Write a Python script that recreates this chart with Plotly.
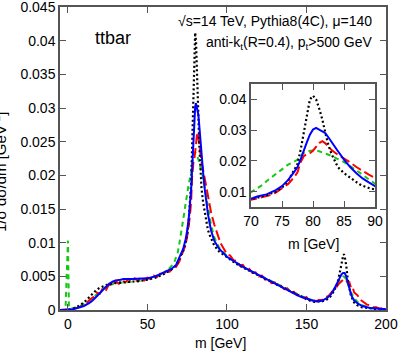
import plotly.graph_objects as go

# ---------------- data ----------------
m_blue = [-5, 0, 3, 6, 10, 13, 15, 18, 20, 22, 25, 28, 30, 33, 35, 40, 45, 50, 55, 60, 65, 68, 70, 71, 72.5, 74, 75, 76, 77, 77.5, 78, 78.5, 79, 79.5, 80, 80.5, 81, 81.5, 82, 82.5, 83, 84, 85, 86, 87, 87.5, 88, 89, 90, 92, 95, 100, 105, 110, 115, 120, 125, 130, 135, 140, 145, 150, 155, 158, 160, 163, 165, 167, 169, 170, 171, 172, 173, 174, 175, 176, 177, 178, 179, 180, 182, 185, 190, 195, 200]
y_blue = [0, 0, 0.0001, 0.0003, 0.0006, 0.001, 0.0013, 0.002, 0.0025, 0.0031, 0.0037, 0.0042, 0.0044, 0.0045, 0.0046, 0.0046, 0.0046, 0.0047, 0.005, 0.0055, 0.0061, 0.0067, 0.0077, 0.0084, 0.0091, 0.0105, 0.0118, 0.0138, 0.0165, 0.018, 0.0205, 0.0235, 0.026, 0.0285, 0.0302, 0.0307, 0.0302, 0.0297, 0.029, 0.0276, 0.026, 0.0232, 0.0204, 0.018, 0.016, 0.0151, 0.0143, 0.013, 0.0118, 0.0103, 0.0091, 0.0079, 0.0071, 0.0064, 0.0058, 0.0052, 0.0046, 0.004, 0.0034, 0.0027, 0.0021, 0.0017, 0.0013, 0.0013, 0.0014, 0.0018, 0.0022, 0.0029, 0.0038, 0.0044, 0.0049, 0.0053, 0.0055, 0.0055, 0.005, 0.004, 0.0031, 0.0023, 0.0018, 0.0014, 0.001, 0.0006, 0.0003, 0.0002, 0.0001]

m_black = [-5, 0, 3, 6, 10, 13, 15, 18, 20, 23, 25, 30, 35, 40, 45, 50, 55, 60, 65, 68, 70, 72.5, 74, 75, 76, 77, 77.5, 78, 78.5, 79, 79.5, 80, 80.5, 81, 81.5, 82, 82.5, 83, 83.5, 84, 85, 86, 87, 87.5, 88, 89, 90, 92, 95, 100, 105, 110, 115, 120, 125, 130, 135, 140, 145, 150, 155, 158, 160, 163, 165, 167, 169, 170, 171, 172, 173, 173.5, 174, 175, 176, 177, 178, 180, 182, 185, 190, 195, 200]
y_black = [0, 0, 0.0002, 0.0005, 0.0011, 0.0018, 0.0024, 0.003, 0.0033, 0.0036, 0.0038, 0.004, 0.0041, 0.0041, 0.0043, 0.0045, 0.0048, 0.0053, 0.006, 0.0066, 0.0075, 0.0088, 0.01, 0.0113, 0.0135, 0.017, 0.019, 0.0235, 0.029, 0.0345, 0.04, 0.0412, 0.04, 0.037, 0.0335, 0.029, 0.025, 0.0222, 0.02, 0.018, 0.016, 0.0144, 0.0131, 0.0124, 0.0119, 0.0112, 0.0106, 0.0096, 0.0087, 0.0078, 0.007, 0.0063, 0.0057, 0.0051, 0.0045, 0.0039, 0.0033, 0.0027, 0.0021, 0.0016, 0.0012, 0.0012, 0.0013, 0.0016, 0.002, 0.0027, 0.0037, 0.0045, 0.0055, 0.0068, 0.008, 0.0083, 0.008, 0.0066, 0.0045, 0.003, 0.0021, 0.0011, 0.0007, 0.0004, 0.0002, 0.0001, 0.0001]

m_red = [-5, 0, 2, 4, 6, 8, 10, 12, 14, 16, 18, 20, 22, 24, 26, 28, 30, 32, 34, 36, 38, 40, 42, 44, 46, 48, 50, 52, 54, 56, 58, 60, 62, 64, 66, 68, 70, 71, 72, 73, 74, 75, 76, 77, 77.5, 78, 78.5, 79, 79.5, 80, 80.5, 81, 81.5, 82, 82.5, 83, 84, 85, 86, 87, 88, 89, 90, 92, 94, 96, 98, 100, 102, 104, 106, 108, 110, 112, 114, 116, 118, 120, 122, 124, 126, 128, 130, 132, 134, 136, 138, 140, 142, 144, 146, 148, 150, 152, 154, 156, 158, 160, 162, 164, 166, 168, 170, 172, 173, 174, 175, 176, 177, 178, 179, 180, 182, 184, 186, 188, 190, 192, 194, 196, 198, 200]
y_red = [0, 0, 0.0001, 0.0002, 0.0003, 0.0005, 0.0008, 0.0011, 0.0016, 0.0019, 0.0026, 0.0024, 0.0033, 0.003, 0.0039, 0.0036, 0.0043, 0.0039, 0.0045, 0.0041, 0.0046, 0.0042, 0.0047, 0.0043, 0.0049, 0.0044, 0.0048, 0.0046, 0.0051, 0.0049, 0.0054, 0.0052, 0.0058, 0.0057, 0.0063, 0.0064, 0.0072, 0.0078, 0.0083, 0.0088, 0.0097, 0.011, 0.0125, 0.0148, 0.0163, 0.0195, 0.0215, 0.0222, 0.0225, 0.0233, 0.0245, 0.0258, 0.0264, 0.0257, 0.0246, 0.0235, 0.022, 0.0208, 0.0195, 0.018, 0.0167, 0.0155, 0.0145, 0.0127, 0.0112, 0.0099, 0.0091, 0.0083, 0.0081, 0.0074, 0.0073, 0.0066, 0.0067, 0.006, 0.0061, 0.0055, 0.0056, 0.005, 0.0051, 0.0045, 0.0046, 0.004, 0.0041, 0.0035, 0.0036, 0.0031, 0.0032, 0.0026, 0.0027, 0.0022, 0.0023, 0.0018, 0.0019, 0.0014, 0.0016, 0.0013, 0.0015, 0.0015, 0.0019, 0.0021, 0.0027, 0.0031, 0.0038, 0.0043, 0.0045, 0.0043, 0.0044, 0.004, 0.0041, 0.0033, 0.0034, 0.0026, 0.0022, 0.0015, 0.0012, 0.0008, 0.0007, 0.0004, 0.0004, 0.0002, 0.0003, 0.0002]

m_green = [-5, -2, -1.5, 0, 0.6, 1.5, 4, 7, 10, 13, 15, 18, 20, 23, 25, 30, 35, 40, 45, 50, 55, 60, 63, 65, 67, 68, 69, 70, 71, 72, 72.5, 73, 74, 75, 76, 77, 77.5, 78, 78.5, 79, 80, 81, 82, 82.5, 83, 84, 85, 86, 87, 87.5, 88, 89, 90, 92, 95, 100, 105, 110, 115, 120, 125, 130, 135, 140, 145, 150, 155, 160, 163, 165, 167, 169, 170, 171, 172, 173, 174, 175, 176, 177, 178, 180, 182, 185, 190, 195, 200]
y_green = [0, 0, 0.0004, 0.0103, 0.0004, 0.0002, 0.0003, 0.0005, 0.0009, 0.0013, 0.0016, 0.0023, 0.0028, 0.0033, 0.0036, 0.004, 0.0041, 0.0042, 0.0043, 0.0046, 0.005, 0.0055, 0.006, 0.0065, 0.0072, 0.0078, 0.0085, 0.0098, 0.0111, 0.0124, 0.0134, 0.0142, 0.0158, 0.0174, 0.0188, 0.0198, 0.0204, 0.0215, 0.0226, 0.0231, 0.0234, 0.0231, 0.0224, 0.022, 0.0216, 0.0206, 0.0196, 0.0183, 0.017, 0.0162, 0.0155, 0.014, 0.0126, 0.0108, 0.0093, 0.008, 0.0072, 0.0064, 0.0058, 0.0052, 0.0046, 0.004, 0.0034, 0.0028, 0.0022, 0.0017, 0.0014, 0.0015, 0.0019, 0.0023, 0.003, 0.0038, 0.0042, 0.0046, 0.0049, 0.005, 0.0049, 0.0045, 0.0039, 0.0032, 0.0026, 0.0018, 0.0012, 0.0007, 0.0003, 0.0002, 0.0001]

main_xticks = [0, 50, 100, 150, 200]
main_yticks = [0, 0.005, 0.01, 0.015, 0.02, 0.025, 0.03, 0.035, 0.04, 0.045]
main_ylabels = ["0", "0.005", "0.01", "0.015", "0.02", "0.025", "0.03", "0.035", "0.04", "0.045"]
inset_xticks = [70, 75, 80, 85, 90]
inset_yticks = [0.01, 0.02, 0.03, 0.04]

# ---------------- styles ----------------
FONT = "Liberation Sans, Arial, sans-serif"
series = [
    (m_green, y_green, dict(color="#14c814", width=2, dash="5px,4px")),
    (m_red, y_red, dict(color="#ff0000", width=2, dash="10px,4px")),
    (m_black, y_black, dict(color="#000000", width=2.2, dash="2px,2.5px")),
    (m_blue, y_blue, dict(color="#0000ff", width=2, dash="solid")),
]

fig = go.Figure()
for xs, ys, ln in series:
    fig.add_trace(go.Scatter(x=xs, y=ys, mode="lines", line=ln, xaxis="x", yaxis="y",
                             showlegend=False, hoverinfo="skip"))
for xs, ys, ln in series:
    fig.add_trace(go.Scatter(x=xs, y=ys, mode="lines", line=ln, xaxis="x2", yaxis="y2",
                             showlegend=False, hoverinfo="skip", cliponaxis=True))

axcommon = dict(showgrid=False, zeroline=False, showline=True, linecolor="#555555",
                linewidth=1.5, mirror="ticks", ticks="inside", ticklen=6,
                tickcolor="#555555", tickwidth=1.2, automargin=False,
                ticklabeloverflow="allow",
                tickfont=dict(family=FONT, size=14, color="#000"))

L, T, W, H = 60, 7, 326, 303
def px(p):
    return (p - L) / W
def py(p):
    return (T + H - p) / H

fig.update_layout(
    width=399, height=353,
    margin=dict(l=L, r=399 - L - W, t=T, b=353 - T - H),
    paper_bgcolor="white", plot_bgcolor="white",
    font=dict(family=FONT, size=14, color="#000"),
    xaxis=dict(axcommon, range=[-5, 200], tickvals=main_xticks, domain=[0, 1]),
    yaxis=dict(axcommon, range=[0, 0.045], tickvals=main_yticks, ticktext=main_ylabels,
               domain=[0, 1]),
    xaxis2=dict(axcommon, range=[70, 90], tickvals=inset_xticks, anchor="y2",
                domain=[px(251), px(375)]),
    yaxis2=dict(axcommon, range=[0.005, 0.045], tickvals=inset_yticks, anchor="x2",
                domain=[py(207), py(84)]),
)

ann = [
    dict(text="ttbar", x=px(93), y=py(38), xanchor="left", yanchor="middle", font=dict(size=18)),
    dict(text="√s=14 TeV, Pythia8(4C), μ=140", x=px(374), y=py(21), xanchor="right", yanchor="middle"),
    dict(text="anti-k<sub>t</sub>(R=0.4), p<sub>t</sub>&gt;500 GeV", x=px(374), y=py(43),
         xanchor="right", yanchor="middle"),
    dict(text="m [GeV]", x=px(220), y=py(343), xanchor="center", yanchor="middle"),
    dict(text="m [GeV]", x=px(313), y=py(244), xanchor="center", yanchor="middle"),
    dict(text="1/σ dσ/dm [GeV<sup>-1</sup>]", x=px(-1), y=py(172), xanchor="center",
         yanchor="middle", textangle=-90, font=dict(size=15)),
]
for a in ann:
    a.update(xref="paper", yref="paper", showarrow=False)
    a.setdefault("font", dict(size=14))
    a["font"].update(family=FONT, color="#000")
fig.update_layout(annotations=ann)

fig.write_html("out.html", config={"displayModeBar": False},
               post_script="document.body.style.margin='0';document.body.style.overflow='hidden';")
